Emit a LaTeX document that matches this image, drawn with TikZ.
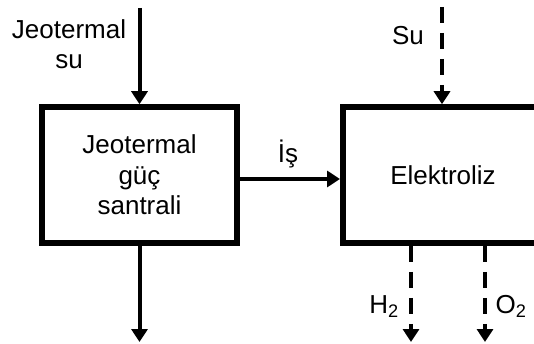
\documentclass[tikz,border=0pt]{standalone}
\usepackage{fontspec}
\setmainfont{Liberation Sans}
\usetikzlibrary{arrows.meta,positioning}

\begin{document}
\begin{tikzpicture}[x=1pt,y=-1pt,
blok/.style={draw,line width=6pt,minimum height=135.5pt,align=center,font=\fontsize{26}{30.5}\selectfont},
lbl/.style={font=\fontsize{26}{30}\selectfont,inner sep=0pt},
arr/.style={-{Triangle[length=13pt,width=16pt]},line width=4pt},
darr/.style={arr,dash pattern=on 16pt off 10pt}]
\useasboundingbox (0,0) rectangle (534,344);
\node[blok,minimum width=195pt] (gpp) at (139.5,175) {Jeotermal\\güç\\santrali};
\node[blok,minimum width=200pt] (elz) at (443,175) {Elektroliz};
\coordinate (jin) at (139.5,8);
\coordinate (jout) at (139.5,342);
\coordinate (su) at (442,7);
\coordinate (h2) at (411,342);
\coordinate (o2) at (485,342);
\draw[arr] (jin) -- (gpp.north);
\draw[arr] (gpp.south) -- (jout);
\draw[arr] ([yshift=-4pt]gpp.east) -- ([yshift=-4pt]elz.west);
\draw[darr] (su) -- (su |- elz.north);
\draw[darr] (h2 |- elz.south) -- (h2);
\draw[darr] (o2 |- elz.south) -- (o2);
\node[lbl,align=center] (jsu) at (69,44) {Jeotermal\\su};
\node[lbl,anchor=base] (sul) at (408,45) {Su};
\node[lbl,anchor=base] (is) at (288,163) {İş};
\node[lbl,anchor=base] (h2l) at (384,313) {H\textsubscript{2}};
\node[lbl,anchor=base] (o2l) at (511,313) {O\textsubscript{2}};
\end{tikzpicture}
\end{document}
